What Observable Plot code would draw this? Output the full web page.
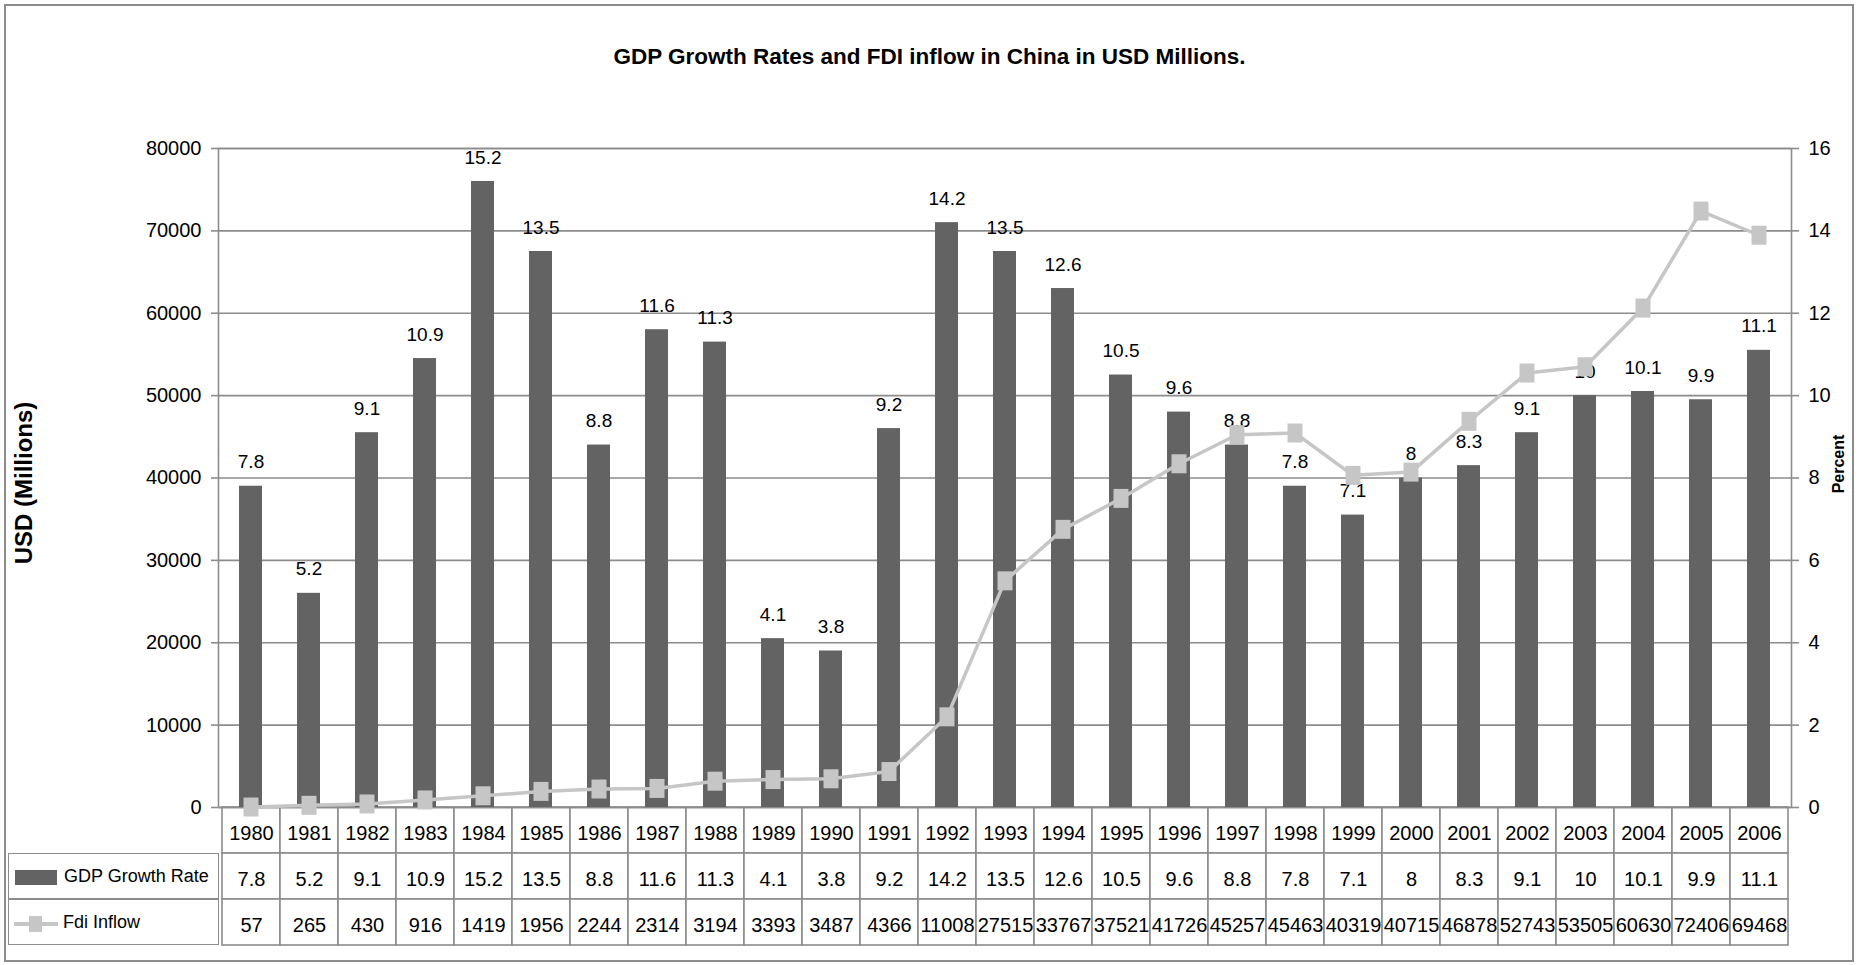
<!DOCTYPE html>
<html>
<head>
<meta charset="utf-8">
<script src="https://cdn.jsdelivr.net/npm/d3@7"></script>
<script src="https://cdn.jsdelivr.net/npm/@observablehq/plot@0.6"></script>
<style>
  body { margin: 0; background: #fff; }
  #wrap { position: relative; width: 1859px; height: 965px; overflow: hidden; background: #fff;
          font-family: 'Liberation Sans', Arial, sans-serif; color: #000; }
  #border { position: absolute; left: 4px; top: 4px; width: 1850px; height: 958px; box-sizing: border-box;
            border: 2px solid #8c8c8c; pointer-events: none; }
  #title { position: absolute; left: 0; top: 45px; width: 1859px; text-align: center;
           font-weight: bold; font-size: 22.5px; line-height: 24px; }
  .layer { position: absolute; left: 0; }
  .leg { position: absolute; left: 8px; width: 211px; box-sizing: border-box; border: 1.6px solid #8c8c8c;
         display: flex; align-items: center; font-size: 18px; background: #fff; white-space: nowrap; }
</style>
</head>
<body>
<div id="wrap">
  <div id="border"></div>
  <div id="title"></div>
  <div id="table" class="layer" style="top:806px"></div>
  <div id="chart" class="layer" style="top:0px"></div>
  <div id="legGdp" class="leg" style="top:853px;height:46px;">
    <span style="display:inline-block;width:42px;height:15px;background:#636363;margin-left:6px;margin-right:7px;margin-top:3px;"></span>
    <span class="lt"></span>
  </div>
  <div id="legFdi" class="leg" style="top:899px;height:46px;">
    <svg width="44" height="20" style="margin-left:5px;margin-right:5px;margin-top:3px;">
      <line x1="0" x2="44" y1="10" y2="10" stroke="#c6c6c6" stroke-width="4"></line>
      <rect x="15" y="2" width="13" height="16" fill="#c6c6c6"></rect>
    </svg>
    <span class="lt"></span>
  </div>
</div>
<script>
const titleText = "GDP Growth Rates and FDI inflow in China in USD Millions.";
const leftAxisTitle = "USD (Millions)";
const rightAxisTitle = "Percent";
const seriesNames = ["GDP Growth Rate", "Fdi Inflow"];

const years = ["1980","1981","1982","1983","1984","1985","1986","1987","1988","1989","1990","1991","1992",
               "1993","1994","1995","1996","1997","1998","1999","2000","2001","2002","2003","2004","2005","2006"];
const gdpGrowth = [7.8,5.2,9.1,10.9,15.2,13.5,8.8,11.6,11.3,4.1,3.8,9.2,14.2,13.5,12.6,10.5,9.6,8.8,7.8,7.1,8,8.3,9.1,10,10.1,9.9,11.1];
const fdiInflow = [57,265,430,916,1419,1956,2244,2314,3194,3393,3487,4366,11008,27515,33767,37521,41726,
                   45257,45463,40319,40715,46878,52743,53505,60630,72406,69468];
const usdTicks = [0,10000,20000,30000,40000,50000,60000,70000,80000];
const usdMax = 80000;
const pctMax = 16;
const pctToUsd = usdMax / pctMax;

const FONT = "'Liberation Sans', Arial, sans-serif";
const GRID = "#8c8c8c";
const BAR = "#636363";
const LINE = "#c6c6c6";

document.getElementById("title").textContent = titleText;
document.querySelector("#legGdp .lt").textContent = seriesNames[0];
document.querySelector("#legFdi .lt").textContent = seriesNames[1];

const rows = years.map((y, i) => ({year: y, gdp: gdpGrowth[i], fdi: fdiInflow[i]}));

const rectSymbol = { draw(ctx) { ctx.rect(-7.5, -9.5, 15, 19); } };

const chart = Plot.plot({
  width: 1859, height: 830,
  marginTop: 148, marginBottom: 23, marginLeft: 218, marginRight: 68,
  style: {fontFamily: FONT, fontSize: "19px", color: "#000", background: "transparent", overflow: "visible"},
  x: {type: "band", domain: years, paddingInner: 0.595, paddingOuter: 0.2975, axis: null},
  y: {domain: [0, usdMax], axis: null},
  marks: [
    Plot.gridY({ticks: usdTicks, stroke: GRID, strokeOpacity: 1, strokeWidth: 1.6}),
    Plot.frame({stroke: GRID, strokeWidth: 1.6}),
    Plot.axisY({ticks: usdTicks, anchor: "left", tickSize: 7, tickPadding: 10, stroke: GRID, strokeWidth: 1.6,
                tickFormat: d => String(d), label: null, fontVariant: "normal", fontSize: 20}),
    Plot.axisY({ticks: usdTicks, anchor: "right", tickSize: 7, tickPadding: 10, stroke: GRID, strokeWidth: 1.6,
                tickFormat: d => String(d / pctToUsd), label: null, fontVariant: "normal", fontSize: 20}),
    Plot.text([leftAxisTitle], {text: d => d, frameAnchor: "left", dx: -194, dy: 5, rotate: -90, textAnchor: "middle",
               fontWeight: "bold", fontSize: 24, fontFamily: FONT}),
    Plot.text([rightAxisTitle], {text: d => d, frameAnchor: "right", dx: 47, dy: -14, rotate: -90, textAnchor: "middle",
               fontWeight: "bold", fontSize: 16, fontFamily: FONT}),
    Plot.barY(rows, {x: "year", y: d => d.gdp * pctToUsd, fill: BAR}),
    Plot.text(rows, {x: "year", y: d => d.gdp * pctToUsd, text: d => String(d.gdp), dy: -24, fontSize: 19}),
    Plot.line(rows, {x: "year", y: "fdi", stroke: LINE, strokeWidth: 3.5}),
    Plot.dot(rows, {x: "year", y: "fdi", symbol: rectSymbol, fill: LINE})
  ]
});
document.getElementById("chart").appendChild(chart);

const cells = years.flatMap((y, i) => [
  {year: y, row: "year", label: y},
  {year: y, row: "gdp", label: String(gdpGrowth[i])},
  {year: y, row: "fdi", label: String(fdiInflow[i])}
]);

const table = Plot.plot({
  width: 1859, height: 141,
  marginTop: 1, marginBottom: 2, marginLeft: 218, marginRight: 68,
  style: {fontFamily: FONT, fontSize: "20px", color: "#000", background: "transparent", overflow: "visible"},
  x: {type: "band", domain: years, padding: 0, axis: null},
  y: {type: "band", domain: ["year", "gdp", "fdi"], padding: 0, axis: null},
  marks: [
    Plot.cell(cells, {x: "year", y: "row", fill: "white", stroke: GRID, strokeWidth: 1.6, inset: 0}),
    Plot.text(cells, {x: "year", y: "row", text: "label", dy: 3})
  ]
});
document.getElementById("table").appendChild(table);
</script>
</body>
</html>
